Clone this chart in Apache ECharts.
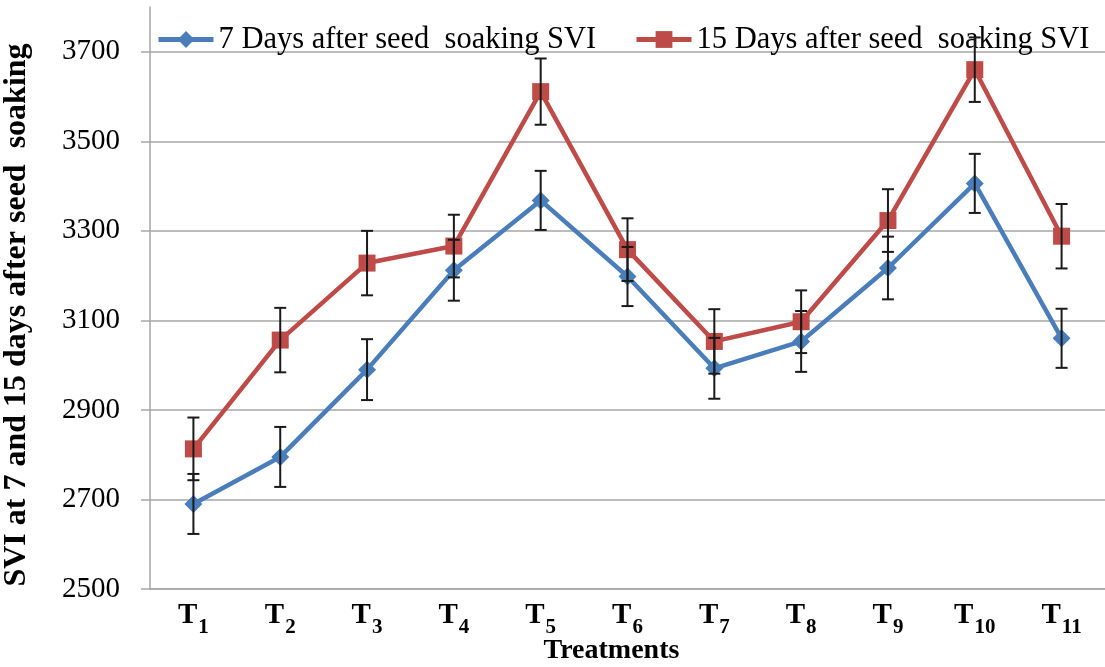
<!DOCTYPE html>
<html>
<head>
<meta charset="utf-8">
<script src="https://cdn.jsdelivr.net/npm/echarts@6/dist/echarts.min.js"></script>
<style>
  html, body { margin: 0; padding: 0; background: #fff; }
  #chart-container { width: 1105px; height: 667px; }
</style>
</head>
<body>
<div id="chart-container"></div>
<script>
var categories = ['1', '2', '3', '4', '5', '6', '7', '8', '9', '10', '11'];
var svi7 = [2690, 2795, 2990, 3212, 3368, 3198, 2993, 3053, 3217, 3406, 3060];
var svi15 = [2813, 3056, 3228, 3266, 3611, 3258, 3053, 3097, 3323, 3660, 3288];
var err7 = [67, 67, 68, 68, 66, 66, 68, 68, 70, 66, 66];
var err15 = [70, 72, 72, 70, 74, 70, 72, 70, 70, 72, 72];
var yTicks = [2500, 2700, 2900, 3100, 3300, 3500, 3700];
var name7 = '7 Days after seed  soaking SVI';
var name15 = '15 Days after seed  soaking SVI';

var serif = '"Liberation Serif", "Times New Roman", serif';
var blue = '#4a7ebb';
var red = '#be4b48';

function errData(vals, errs) {
	return vals.map((v, i) => [i, v - errs[i], v + errs[i]]);
}

function renderErr(params, api) {
	var lo = api.coord([api.value(0), api.value(1)]);
	var hi = api.coord([api.value(0), api.value(2)]);
	var cap = 6;
	var style = { stroke: '#1a1a1a', lineWidth: 2 };
	return {
		type: 'group',
		children: [
			{ type: 'line', shape: { x1: lo[0], y1: lo[1], x2: hi[0], y2: hi[1] }, style: style },
			{ type: 'line', shape: { x1: lo[0] - cap, y1: lo[1], x2: lo[0] + cap, y2: lo[1] }, style: style },
			{ type: 'line', shape: { x1: hi[0] - cap, y1: hi[1], x2: hi[0] + cap, y2: hi[1] }, style: style }
		]
	};
}

var dom = document.getElementById('chart-container');
var myChart = echarts.init(dom, null, { renderer: 'canvas' });

// gridline at 3800 (top edge) stays hidden
var gridColors = ['#a6a6a6', '#a6a6a6', '#a6a6a6', '#a6a6a6', '#a6a6a6', '#a6a6a6', '#a6a6a6', 'rgba(0,0,0,0)'];

var legendBase = {
	top: 19,
	itemWidth: 55,
	itemHeight: 21,
	lineStyle: { width: 5 },
	textStyle: { fontFamily: serif, fontSize: 30.5, color: '#000' }
};

var option = {
	animation: false,
	textStyle: { fontFamily: serif },
	legend: [
		Object.assign({ data: [name7], left: 151 }, legendBase),
		Object.assign({ data: [name15], left: 629 }, legendBase)
	],
	grid: {
		left: 150,
		right: 0,
		top: 7,
		bottom: 78,
		outerBoundsMode: 'none',
		containLabel: false
	},
	xAxis: {
		type: 'category',
		data: categories,
		boundaryGap: true,
		name: 'Treatments',
		nameLocation: 'middle',
		nameGap: 48,
		nameMoveOverlap: false,
		nameTextStyle: { fontFamily: serif, fontSize: 28, fontWeight: 'bold', color: '#000', padding: [0, 32, 0, 0] },
		axisLine: { lineStyle: { color: '#a6a6a6', width: 1.5 } },
		axisTick: { show: false },
		axisLabel: {
			margin: 20,
			formatter: v => '{t|T}{s|' + v + '}',
			rich: {
				t: { fontFamily: serif, fontSize: 29, lineHeight: 29, fontWeight: 'bold', color: '#000', verticalAlign: 'bottom', padding: [0, 1, 8, 0] },
				s: { fontFamily: serif, fontSize: 21, lineHeight: 21, fontWeight: 'bold', color: '#000', verticalAlign: 'bottom' }
			}
		}
	},
	yAxis: {
		type: 'value',
		min: 2500,
		max: 3800,
		interval: 200,
		name: 'SVI at 7 and 15 days after seed  soaking',
		nameLocation: 'middle',
		nameGap: 117,
		nameMoveOverlap: false,
		nameRotate: 90,
		nameTextStyle: { fontFamily: serif, fontSize: 32, fontWeight: 'bold', color: '#000', padding: [0, 34, 0, 0] },
		axisLine: { show: true, lineStyle: { color: '#a6a6a6', width: 1.5 } },
		axisTick: { show: true, length: 9, customValues: yTicks, lineStyle: { color: '#a6a6a6', width: 1.5 } },
		axisLabel: {
			margin: 30,
			customValues: yTicks,
			formatter: v => String(v),
			fontFamily: serif,
			fontSize: 29,
			color: '#000'
		},
		splitLine: { show: true, lineStyle: { color: gridColors, width: 1.5 } }
	},
	series: [
		{
			name: name7,
			type: 'line',
			data: svi7,
			symbol: 'diamond',
			symbolSize: 18,
			lineStyle: { color: blue, width: 4.5 },
			itemStyle: { color: blue },
			z: 3
		},
		{
			name: name15,
			type: 'line',
			data: svi15,
			symbol: 'rect',
			symbolSize: 17,
			lineStyle: { color: red, width: 4.5 },
			itemStyle: { color: red },
			z: 3
		},
		{
			type: 'custom',
			renderItem: renderErr,
			data: errData(svi7, err7),
			encode: { x: 0, y: [1, 2] },
			z: 4,
			silent: true
		},
		{
			type: 'custom',
			renderItem: renderErr,
			data: errData(svi15, err15),
			encode: { x: 0, y: [1, 2] },
			z: 4,
			silent: true
		}
	]
};

myChart.setOption(option);
</script>
</body>
</html>
